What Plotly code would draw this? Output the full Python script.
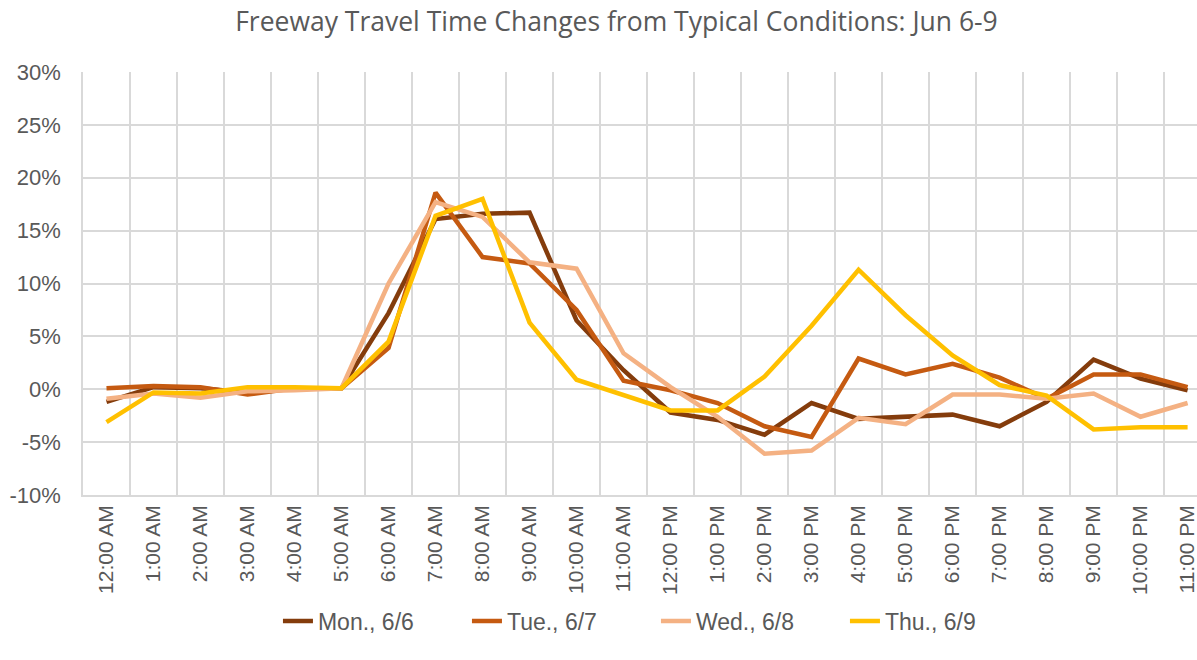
import plotly.graph_objects as go

# hourly categories on the x axis
hours = ["12:00 AM", "1:00 AM", "2:00 AM", "3:00 AM", "4:00 AM", "5:00 AM",
         "6:00 AM", "7:00 AM", "8:00 AM", "9:00 AM", "10:00 AM", "11:00 AM",
         "12:00 PM", "1:00 PM", "2:00 PM", "3:00 PM", "4:00 PM", "5:00 PM",
         "6:00 PM", "7:00 PM", "8:00 PM", "9:00 PM", "10:00 PM", "11:00 PM"]

# travel time change vs typical, in percent
mon = [-1.2, 0.2, 0.1, -0.3, 0.1, 0.1, 7.2, 16.1, 16.6, 16.7, 6.5, 1.8,
       -2.2, -2.9, -4.3, -1.3, -2.8, -2.6, -2.4, -3.5, -1.2, 2.8, 1.0, -0.1]
tue = [0.1, 0.3, 0.2, -0.5, 0.1, 0.1, 3.9, 18.6, 12.5, 11.9, 7.5, 0.8,
       -0.1, -1.3, -3.5, -4.5, 2.9, 1.4, 2.4, 1.1, -0.9, 1.4, 1.4, 0.2]
wed = [-0.9, -0.4, -0.8, -0.2, -0.1, 0.1, 10.0, 17.7, 16.3, 12.0, 11.4, 3.4,
       0.2, -2.6, -6.1, -5.8, -2.7, -3.3, -0.5, -0.5, -0.9, -0.4, -2.6, -1.3]
thu = [-3.1, -0.3, -0.4, 0.2, 0.2, 0.1, 4.5, 16.4, 18.0, 6.3, 0.9, -0.5,
       -2.0, -2.0, 1.2, 6.0, 11.3, 7.0, 3.2, 0.4, -0.6, -3.8, -3.6, -3.6]

# y ticks (Excel style hyphen minus)
y_ticks = [-10, -5, 0, 5, 10, 15, 20, 25, 30]
y_tick_text = ["-10%", "-5%", "0%", "5%", "10%", "15%", "20%", "25%", "30%"]

series = [
    ("Mon., 6/6", mon, "#843C0C"),
    ("Tue., 6/7", tue, "#C55A11"),
    ("Wed., 6/8", wed, "#F4B183"),
    ("Thu., 6/9", thu, "#FFC000"),
]

text_color = "#595959"
grid_color = "#D9D9D9"

fig = go.Figure()
for name, vals, color in series:
    fig.add_trace(go.Scatter(
        x=hours, y=vals, name=name, mode="lines",
        line=dict(color=color, width=4.5),
    ))

fig.update_layout(
    width=1197, height=660,
    plot_bgcolor="white", paper_bgcolor="white",
    margin=dict(l=83, r=0, t=72, b=165),
    font=dict(family="Liberation Sans, Arial, sans-serif", size=22, color=text_color),
    title=dict(
        text="Freeway Travel Time Changes from Typical Conditions: Jun 6-9",
        x=0.515, xref="container", xanchor="center",
        y=0.967, yref="container", yanchor="middle",
        font=dict(family="Open Sans, sans-serif", size=26.5, color=text_color),
    ),
    legend=dict(
        orientation="h",
        xref="container", x=0.548, xanchor="center",
        yref="container", y=0.059, yanchor="middle",
        entrywidth=144, entrywidthmode="pixels",
        font=dict(size=23, color=text_color),
    ),
    showlegend=True,
)

fig.update_xaxes(
    type="category",
    categoryorder="array", categoryarray=hours,
    range=[-0.5, 23.2],
    tickson="boundaries",
    showgrid=True, gridcolor=grid_color, gridwidth=1.5,
    showline=True, linecolor=grid_color, linewidth=1.5,
    ticks="", tickangle=-90,
    tickfont=dict(size=21, color=text_color),
)

fig.update_yaxes(
    range=[-10, 30], tickmode="array", tickvals=y_ticks, ticktext=y_tick_text,
    showgrid=True, gridcolor=grid_color, gridwidth=1.5,
    zeroline=False,
    showline=True, linecolor=grid_color, linewidth=1.5,
    ticks="", ticklabelstandoff=16,
    tickfont=dict(size=22, color=text_color),
)

# drop the default 8px page margin so the chart sits at the window corner
fig.write_html("out.html", config={"displayModeBar": False},
               post_script="document.body.style.margin='0';")
